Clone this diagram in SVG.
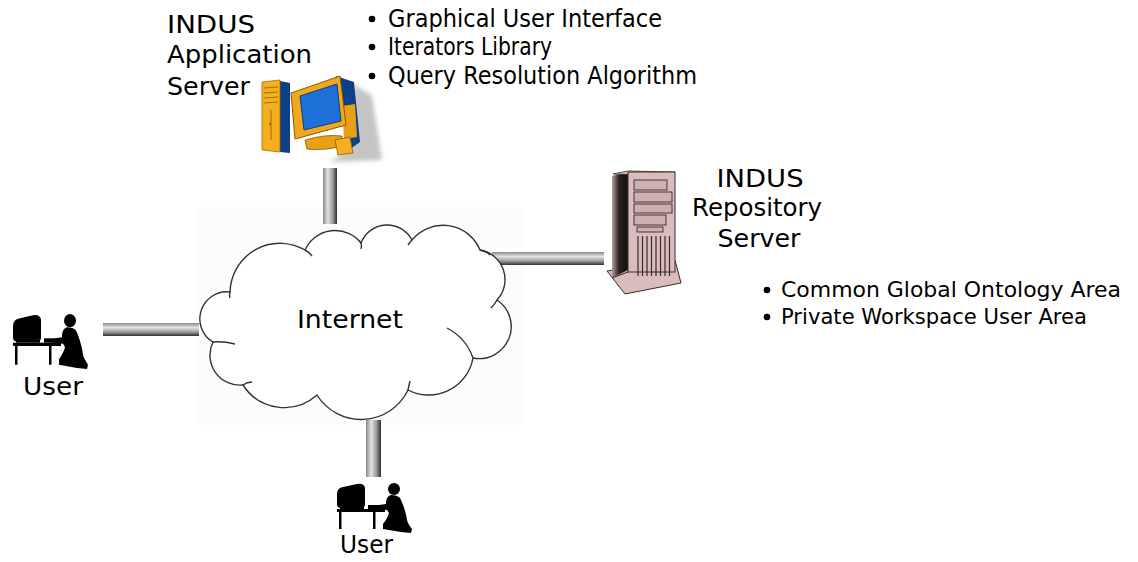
<svg xmlns="http://www.w3.org/2000/svg" width="1138" height="562" viewBox="0 0 1138 562">
  <style>
    text { font-family: "DejaVu Sans", "Liberation Sans", sans-serif; font-size: 24.5px; fill: #000; }
    .mid { text-anchor: middle; }
    .small { font-size: 22px; }
    .cloud { fill: #fff; stroke: #333; stroke-width: 1.4; }
    .tail { fill: none; stroke: #333; stroke-width: 1.4; }
    .sil { fill: #000; }
  </style>
  <defs>
    <linearGradient id="barH" x1="0" y1="0" x2="0" y2="1">
      <stop offset="0" stop-color="#8a8a8a"/>
      <stop offset="0.35" stop-color="#e4e4e4"/>
      <stop offset="0.7" stop-color="#9a9a9a"/>
      <stop offset="1" stop-color="#2e2e2e"/>
    </linearGradient>
    <linearGradient id="barV" x1="0" y1="0" x2="1" y2="0">
      <stop offset="0" stop-color="#8a8a8a"/>
      <stop offset="0.35" stop-color="#e4e4e4"/>
      <stop offset="0.7" stop-color="#9a9a9a"/>
      <stop offset="1" stop-color="#2e2e2e"/>
    </linearGradient>
    <linearGradient id="towerSide" x1="0" y1="0" x2="1" y2="0">
      <stop offset="0" stop-color="#b89a9a"/>
      <stop offset="0.45" stop-color="#2a1e1e"/>
      <stop offset="1" stop-color="#111"/>
    </linearGradient>
    <filter id="soft" x="-30%" y="-30%" width="160%" height="160%">
      <feGaussianBlur stdDeviation="2"/>
    </filter>
    <!-- person at a desk, silhouette -->
    <g id="userIcon">
      <path class="sil" d="M0,12 Q0,6 6,5 L20,2 Q27,1 28,6 L28,24 L4,26 Q0,26 0,22 Z"/>
      <rect class="sil" x="3" y="24" width="24" height="3"/>
      <rect class="sil" x="0" y="27" width="48" height="3"/>
      <rect class="sil" x="2" y="30" width="2.5" height="17"/>
      <rect class="sil" x="36" y="30" width="2.5" height="17"/>
      <rect class="sil" x="31" y="23" width="13" height="4"/>
      <circle class="sil" cx="57" cy="7" r="6"/>
      <path class="sil" d="M54,13 C50,14 49,18 49,22 L42,23 L40,27 L50,28 L52,31 C51,35 49,38 46,42 L46,47 L64,50 L74,51 L75,47 C73,44 71,42 70,38 C69,30 66,22 63,16 C61,14 58,13 54,13 Z"/>
    </g>
  </defs>

  <rect x="0" y="0" width="1138" height="562" fill="#fff"/>
  <rect x="197" y="207" width="325" height="218" fill="#fcfcfc"/>

  <!-- connectors -->
  <g id="connectors">
    <rect x="323" y="168" width="14" height="56" fill="url(#barV)"/>
    <rect x="492" y="252" width="112" height="13" fill="url(#barH)"/>
    <rect x="103" y="323" width="96" height="13" fill="url(#barH)"/>
    <rect x="366" y="420" width="15" height="57" fill="url(#barV)"/>
  </g>

  <!-- Internet cloud -->
  <g id="internet">
    <path class="cloud" d="M230,292 A50,50 0 0 1 305,250 A33,33 0 0 1 361,243 A28,28 0 0 1 412,240 A40,40 0 0 1 480,250 A30,30 0 0 1 497,300 A32,32 0 0 1 473,358 A45,45 0 0 1 408,390 A52,52 0 0 1 317,395 A49,49 0 0 1 243,385 A30,30 0 0 1 213,342 A27,27 0 0 1 230,292 Z"/>
    <path class="tail" d="M305,250 q4,2 7,6"/>
    <path class="tail" d="M361,243 q1,3 0,6"/>
    <path class="tail" d="M412,240 q-2,2 -4,5"/>
    <path class="tail" d="M480,250 q6,1 10,5"/>
    <path class="tail" d="M497,300 q-2,4 -6,8"/>
    <path class="tail" d="M447,328 Q466,338 473,358"/>
    <path class="tail" d="M408,390 q1,-5 2,-9"/>
    <path class="tail" d="M243,385 q4,-3 9,-3"/>
    <path class="tail" d="M213,342 q10,-1 22,2"/>
    <path class="tail" d="M230,292 q-1,3 0,6"/>
    <text class="mid" x="350" y="328" textLength="106" lengthAdjust="spacingAndGlyphs">Internet</text>
  </g>

  <!-- INDUS Application Server -->
  <g id="app-server">
    <path d="M354,84 L372,96 L382,160 L330,162 L352,148 Z" fill="#c4c4c4" filter="url(#soft)"/>
    <!-- tower -->
    <polygon points="280,81 290,83 290,153 280,152" fill="#0d3f86"/>
    <polygon points="262,82 280,80 280,152 262,150" fill="#f3b01e" stroke="#a86b00" stroke-width="0.8"/>
    <g stroke="#a86b00" stroke-width="1" fill="none">
      <line x1="264" y1="88" x2="278" y2="87"/>
      <line x1="264" y1="93" x2="278" y2="92"/>
      <line x1="264" y1="98" x2="278" y2="97"/>
      <line x1="264" y1="103" x2="278" y2="102"/>
      <line x1="271" y1="110" x2="271" y2="140"/>
    </g>
    <circle cx="270" cy="124" r="1.3" fill="#a86b00"/>
    <!-- monitor -->
    <polygon points="336,76 354,82 360,142 346,152 345,123" fill="#0d3f86"/>
    <polygon points="342,106 355,104 357,137 344,139" fill="#e8a014"/>
    <polygon points="291,93 340,76 346,125 295,139" fill="#f2a81d" stroke="#8a5a00" stroke-width="1"/>
    <polygon points="300,96 337,84 341,121 304,130" fill="#1f6fd8" stroke="#0d3f86" stroke-width="1"/>
    <path d="M305,140 Q325,134 342,136 L342,146 Q325,151 307,149 Z" fill="#e8a014" stroke="#8a5a00" stroke-width="0.8"/>
    <polygon points="335,140 350,137 353,153 338,155" fill="#f3b01e" stroke="#8a5a00" stroke-width="0.8"/>
    <text x="167" y="33" textLength="88" lengthAdjust="spacingAndGlyphs">INDUS</text>
    <text x="167" y="63" textLength="145" lengthAdjust="spacingAndGlyphs">Application</text>
    <text x="167" y="95" textLength="83" lengthAdjust="spacingAndGlyphs">Server</text>
  </g>

  <g id="app-features">
    <circle cx="372" cy="19" r="3.3"/>
    <circle cx="372" cy="47" r="3.3"/>
    <circle cx="372" cy="76" r="3.3"/>
    <text x="388" y="27" textLength="274" lengthAdjust="spacingAndGlyphs">Graphical User Interface</text>
    <text x="388" y="55" textLength="164" lengthAdjust="spacingAndGlyphs">Iterators Library</text>
    <text x="388" y="84" textLength="309" lengthAdjust="spacingAndGlyphs">Query Resolution Algorithm</text>
  </g>

  <!-- INDUS Repository Server -->
  <g id="repo-server">
    <polygon points="607,271 675,260 681,283 625,294" fill="#d9bcbc" stroke="#3a2a2a" stroke-width="1"/>
    <polygon points="612,176 628,172 628,270 612,278" fill="url(#towerSide)"/>
    <polygon points="613,174 628,171 675,172 660,175" fill="#e6cccc" stroke="#3a2a2a" stroke-width="0.8"/>
    <rect x="628" y="172" width="47" height="100" fill="#d9bcbc" stroke="#3a2a2a" stroke-width="1"/>
    <g fill="#cfb0b0" stroke="#3a2a2a" stroke-width="0.9">
      <rect x="634" y="180" width="33" height="10"/>
      <rect x="634" y="192" width="38" height="10"/>
      <rect x="634" y="204" width="38" height="9"/>
      <rect x="634" y="215" width="32" height="10"/>
      <rect x="637" y="227" width="26" height="5"/>
    </g>
    <g stroke="#3a2a2a" stroke-width="1.2">
      <line x1="638" y1="236" x2="638" y2="276"/>
      <line x1="642.5" y1="236" x2="642.5" y2="276"/>
      <line x1="647" y1="236" x2="647" y2="276"/>
      <line x1="651.5" y1="236" x2="651.5" y2="276"/>
      <line x1="656" y1="236" x2="656" y2="276"/>
      <line x1="660.5" y1="236" x2="660.5" y2="276"/>
      <line x1="665" y1="236" x2="665" y2="276"/>
      <line x1="669.5" y1="236" x2="669.5" y2="276"/>
    </g>
    <line x1="612" y1="278" x2="628" y2="272" stroke="#3a2a2a" stroke-width="1"/>
    <text class="mid" x="760" y="187" textLength="87" lengthAdjust="spacingAndGlyphs">INDUS</text>
    <text class="mid" x="757" y="216" textLength="130" lengthAdjust="spacingAndGlyphs">Repository</text>
    <text class="mid" x="759" y="247" textLength="83" lengthAdjust="spacingAndGlyphs">Server</text>
  </g>

  <g id="repo-features">
    <circle cx="767" cy="290" r="3.3"/>
    <circle cx="767" cy="317" r="3.3"/>
    <text class="small" x="781" y="297" textLength="340" lengthAdjust="spacingAndGlyphs">Common Global Ontology Area</text>
    <text class="small" x="781" y="324" textLength="306" lengthAdjust="spacingAndGlyphs">Private Workspace User Area</text>
  </g>

  <!-- users -->
  <g id="user-left">
    <use href="#userIcon" transform="translate(13,313) scale(1,1.1)"/>
    <text x="23" y="395" textLength="60" lengthAdjust="spacingAndGlyphs">User</text>
  </g>
  <g id="user-bottom">
    <use href="#userIcon" transform="translate(337,482)"/>
    <text x="340" y="553" textLength="53" lengthAdjust="spacingAndGlyphs">User</text>
  </g>
</svg>
